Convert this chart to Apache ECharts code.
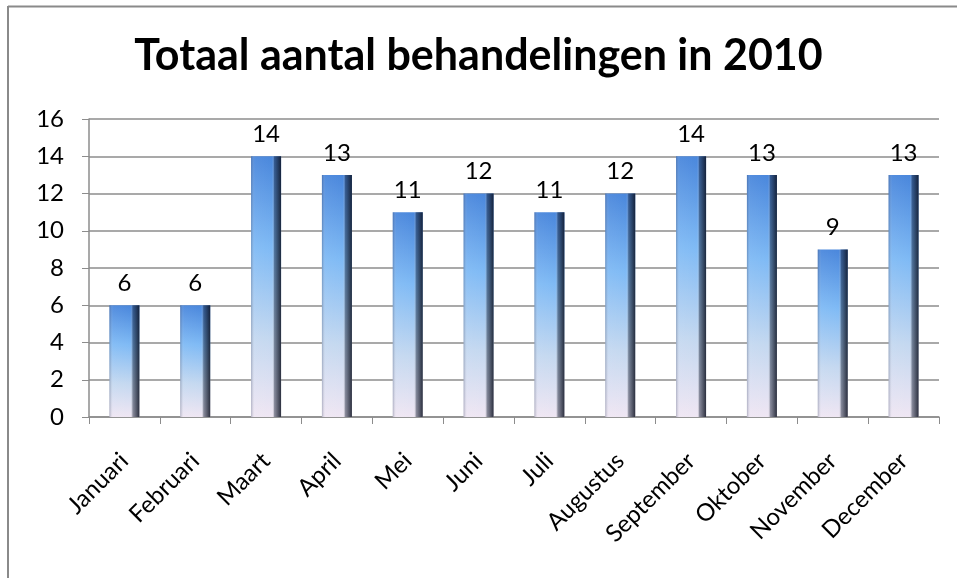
<!DOCTYPE html>
<html>
<head>
<meta charset="utf-8">
<script src="https://cdn.jsdelivr.net/npm/echarts@6/dist/echarts.min.js"></script>
<style>
  html, body { margin: 0; padding: 0; background: #fff; }
  #chart { width: 957px; height: 578px; }
</style>
</head>
<body>
<div id="chart"></div>
<script>
const titleText = "Totaal aantal behandelingen in 2010";
const months = ["Januari", "Februari", "Maart", "April", "Mei", "Juni", "Juli",
  "Augustus", "September", "Oktober", "November", "December"];
const counts = [6, 6, 14, 13, 11, 12, 11, 12, 14, 13, 9, 13];
const yTicks = [0, 2, 4, 6, 8, 10, 12, 14, 16];

const chart = echarts.init(document.getElementById("chart"));
const font = "Lato, 'Open Sans', sans-serif";

chart.setOption({
  animation: false,
  title: {
    text: titleText,
    left: "center",
    top: 30,
    textStyle: { fontFamily: font, fontSize: 43, fontWeight: "bold", color: "#000" },
  },
  graphic: [
    // kader van het diagram (boven en links zichtbaar)
    { type: "line", shape: { x1: 8, y1: 6.5, x2: 957, y2: 6.5 }, style: { stroke: "#8a8a8a", lineWidth: 2 } },
    { type: "line", shape: { x1: 8, y1: 6, x2: 8, y2: 578 }, style: { stroke: "#8a8a8a", lineWidth: 2 } },
  ],
  grid: { left: 89, right: 18, top: 119, height: 298, containLabel: false },
  xAxis: {
    type: "category",
    data: months,
    axisLine: { lineStyle: { color: "#8c8c8c", width: 1.5 } },
    axisTick: { show: true, length: 7, lineStyle: { color: "#8c8c8c" } },
    axisLabel: {
      rotate: 45,
      interval: 0,
      margin: 40,
      color: "#000",
      fontFamily: font,
      fontSize: 24,
    },
  },
  yAxis: {
    type: "value",
    min: yTicks[0],
    max: yTicks[yTicks.length - 1],
    interval: 2,
    axisLine: { show: true, lineStyle: { color: "#8c8c8c", width: 1.5 } },
    axisTick: { show: true, length: 7, lineStyle: { color: "#8c8c8c" } },
    axisLabel: { color: "#000", fontFamily: font, fontSize: 24, margin: 25 },
    splitLine: { lineStyle: { color: "#8c8c8c", width: 1.5 } },
  },
  series: [
    {
      type: "bar",
      data: counts,
      barWidth: 30,
      z: 2,
      itemStyle: {
        color: new echarts.graphic.LinearGradient(0, 0, 0, 1, [
          { offset: 0, color: "#4a87dc" },
          { offset: 0.35, color: "#7fbaf5" },
          { offset: 0.7, color: "#c4d8f0" },
          { offset: 1, color: "#efe6f3" },
        ]),
      },
      label: {
        show: true,
        position: "top",
        distance: 10,
        color: "#000",
        fontFamily: font,
        fontSize: 24,
      },
    },
    {
      // schaduw / bevel over dezelfde balken
      type: "bar",
      data: counts,
      barWidth: 30,
      barGap: "-100%",
      z: 3,
      silent: true,
      itemStyle: {
        color: new echarts.graphic.LinearGradient(0, 0, 1, 0, [
          { offset: 0, color: "rgba(60,70,100,0.35)" },
          { offset: 0.12, color: "rgba(255,255,255,0.05)" },
          { offset: 0.7, color: "rgba(255,255,255,0)" },
          { offset: 0.78, color: "rgba(20,30,50,0.45)" },
          { offset: 1, color: "rgba(10,15,30,0.85)" },
        ]),
      },
    },
  ],
});
</script>
</body>
</html>
